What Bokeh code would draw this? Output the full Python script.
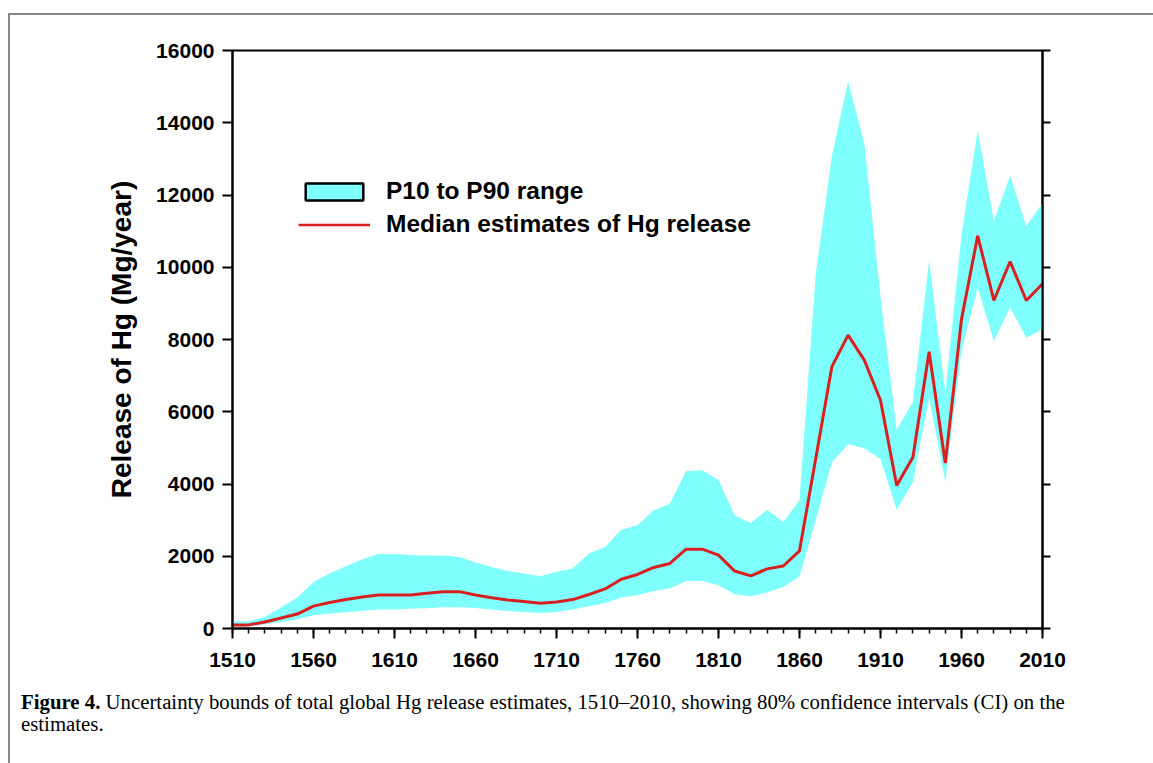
from bokeh.plotting import figure
from bokeh.layouts import column
from bokeh.models import (ColumnDataSource, FixedTicker, LinearAxis, Legend, LegendItem,
                          Range1d, CustomJSTickFormatter, Div)
from bokeh.core.properties import value
from bokeh.embed import file_html
from bokeh.resources import INLINE

years = list(range(1510, 2011, 10))
median = [100, 100, 180, 290, 400, 620, 720, 800, 870, 930,
          930, 930, 975, 1020, 1020, 925, 850, 790, 745, 700,
          735, 800, 940, 1095, 1365, 1495, 1690, 1800, 2195, 2195,
          2030, 1590, 1455, 1650, 1730, 2150, 4700, 7250, 8120, 7430,
          6320, 3960, 4740, 7660, 4580, 8560, 10870, 9080, 10160, 9080,
          9540]
upper = [200, 200, 320, 580, 860, 1290, 1520, 1720, 1910, 2065,
         2065, 2035, 2020, 2020, 1980, 1830, 1705, 1595, 1520, 1445,
         1565, 1660, 2075, 2255, 2735, 2855, 3270, 3455, 4360, 4380,
         4110, 3135, 2920, 3290, 2950, 3550, 9800, 13080, 15150, 13430,
         9200, 5500, 6270, 10190, 6540, 10900, 13790, 11280, 12535, 11140,
         11770]
lower = [60, 60, 120, 180, 255, 370, 415, 450, 490, 525,
         525, 545, 560, 590, 590, 570, 525, 487, 460, 431,
         460, 525, 617, 708, 857, 921, 1040, 1106, 1316, 1316,
         1197, 948, 893, 995, 1150, 1446, 3000, 4600, 5100, 4990,
         4690, 3290, 4055, 6380, 4055, 7685, 9430, 7960, 8885, 8045,
         8285]

x_major = list(range(1510, 2011, 50))
x_minor = list(range(1510, 2011, 10))
y_ticks = list(range(0, 16001, 2000))

legend_band = "P10 to P90 range"
legend_line = "Median estimates of Hg release"
y_label = "Release of Hg (Mg/year)"
cap_bold = "Figure 4."
cap_line1 = "Uncertainty bounds of total global Hg release estimates, 1510\u20132010, showing 80% confidence intervals (CI) on the"
cap_line2 = "estimates."

NAN = float("nan")
src = ColumnDataSource(dict(year=years, median=median, upper=upper, lower=lower))

p = figure(width=1143, height=665, output_backend="svg", toolbar_location=None,
           x_range=Range1d(1510, 2010), y_range=Range1d(0, 16000),
           min_border_left=222, min_border_right=111, min_border_top=35, min_border_bottom=52)
p.grid.visible = False
p.outline_line_color = "black"
p.outline_line_width = 2

band = p.varea(x="year", y1="lower", y2="upper", source=src, fill_color="#80ffff")
line = p.line(x="year", y="median", source=src, line_color="#d92020", line_width=3)
leg_box = p.quad(left=[NAN], right=[NAN], top=[NAN], bottom=[NAN], fill_color="#80ffff",
                 line_color="black", line_width=2.5)
leg_line = p.line(x=[NAN], y=[NAN], line_color="#d92020", line_width=2.5)

font = "Liberation Sans"
xa = p.xaxis[0]
xa.ticker = FixedTicker(ticks=x_major, minor_ticks=x_minor)
ya = p.yaxis[0]
ya.ticker = FixedTicker(ticks=y_ticks)
for ax in (xa, ya):
    ax.axis_line_width = 2
    ax.major_tick_line_width = 2
    ax.major_tick_out = 10
    ax.major_tick_in = 0
    ax.major_label_text_font = font
    ax.major_label_text_font_style = "bold"
    ax.major_label_text_font_size = "21px"
    ax.major_label_text_color = "black"
    ax.major_label_standoff = 8
xa.minor_tick_out = 5
xa.minor_tick_in = 0
xa.minor_tick_line_width = 1.5
xa.major_label_standoff = 14
ya.minor_tick_line_color = None
ya.axis_label = y_label
ya.axis_label_text_font = font
ya.axis_label_text_font_style = "bold"
ya.axis_label_text_font_size = "28px"
ya.axis_label_text_color = "black"
ya.axis_label_standoff = 16

ra = LinearAxis(ticker=FixedTicker(ticks=y_ticks), axis_line_width=2,
                major_tick_line_width=2, major_tick_out=8, major_tick_in=0,
                minor_tick_line_color=None,
                formatter=CustomJSTickFormatter(code="return ''"))
p.add_layout(ra, "right")

legend = Legend(items=[LegendItem(label=value(legend_band), renderers=[leg_box]),
                       LegendItem(label=value(legend_line), renderers=[leg_line])],
                location=(66, 390), padding=0, spacing=5, glyph_width=72, glyph_height=21,
                label_standoff=16, label_text_font=font, label_text_font_style="bold",
                label_text_font_size="24.5px", label_text_color="black",
                border_line_alpha=0, background_fill_alpha=0)
p.add_layout(legend, "center")

caption = Div(
    text=f"<b>{cap_bold}</b> {cap_line1}<br>{cap_line2}",
    width=1143, height=83,
    styles={"font-family": "'Liberation Serif', serif", "font-size": "20.8px",
            "line-height": "22px", "color": "black", "padding-left": "6px",
            "padding-top": "6px", "white-space": "nowrap", "box-sizing": "border-box"})

layout = column(p, caption, spacing=0,
                styles={"border-left": "2px solid #888888", "border-top": "2px solid #888888",
                        "margin-left": "8px", "margin-top": "13px"})

open("out.html", "w").write(file_html(layout, INLINE))
